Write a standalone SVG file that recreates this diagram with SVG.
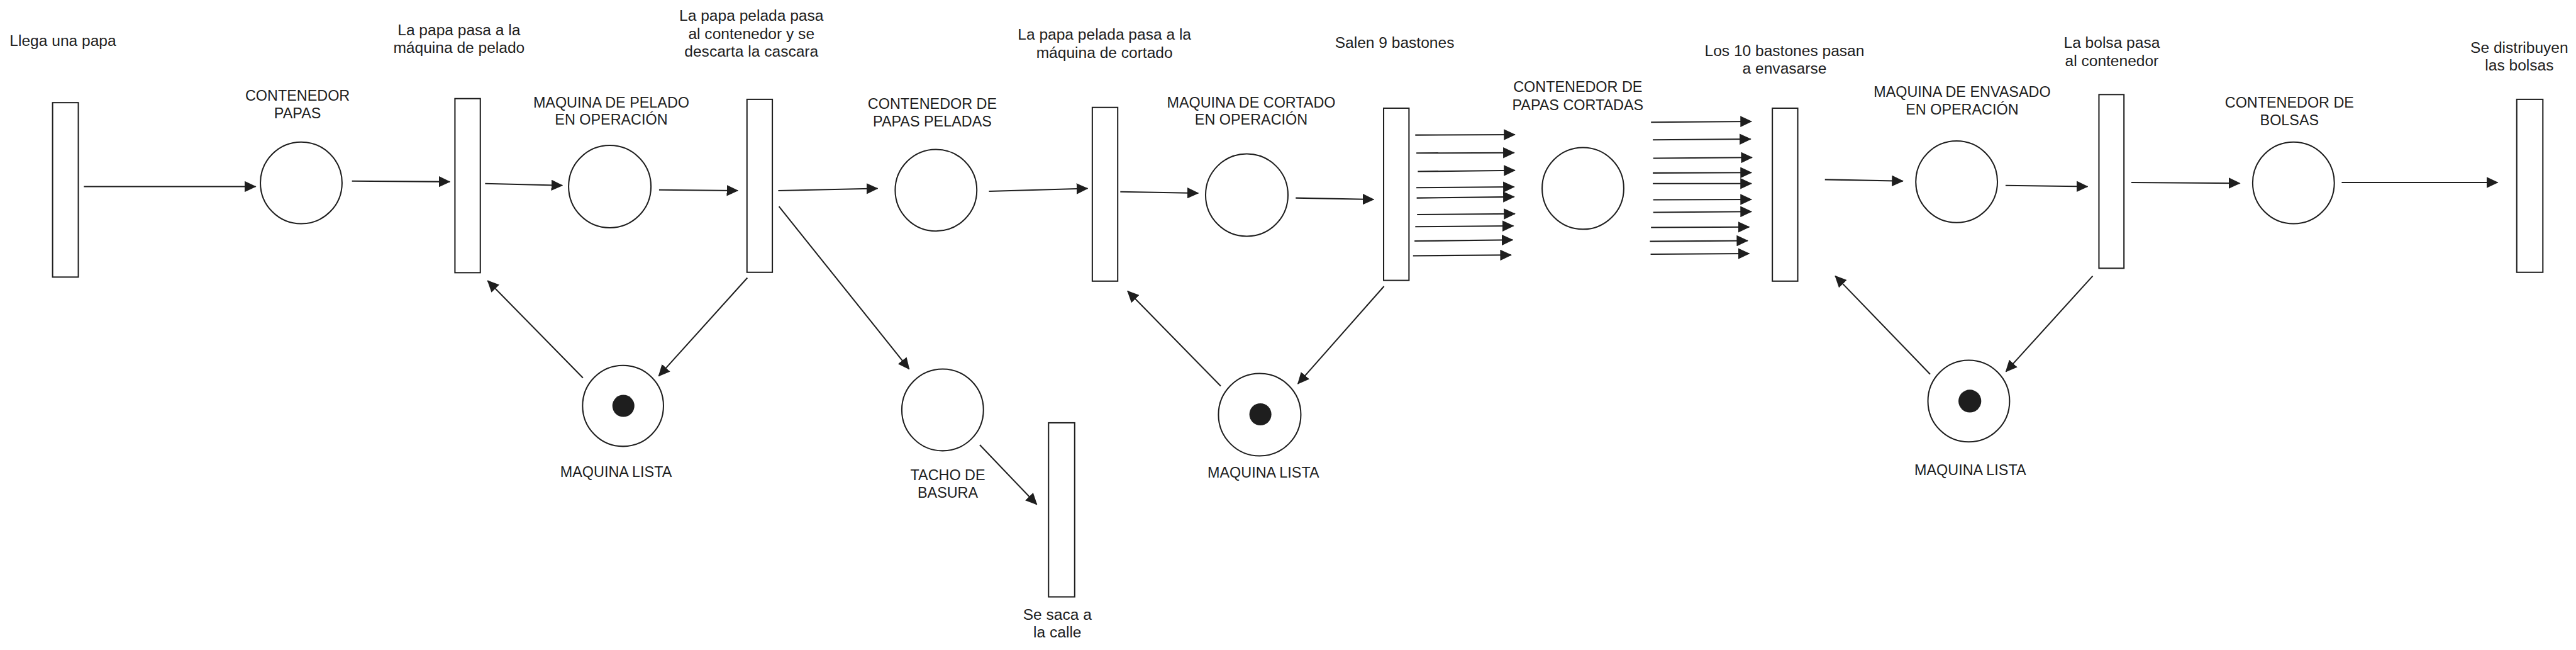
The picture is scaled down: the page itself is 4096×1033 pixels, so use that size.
<svg xmlns="http://www.w3.org/2000/svg" width="4096" height="1033" viewBox="0 0 4096 1033">
<defs>
<style>
.t{fill:#fff;stroke:#1e1e1e;stroke-width:3.5}
.p{fill:none;stroke:#1e1e1e;stroke-width:3.5}
.k{fill:#1e1e1e}
.c{fill:none;stroke:#1e1e1e;stroke-width:3.5;marker-end:url(#ah)}
text{font-family:"Liberation Sans",Arial,sans-serif;fill:#1e1e1e;text-anchor:middle}
.s{font-size:42px}
.u{font-size:40px}
</style>
<marker id="ah" viewBox="0 0 32 30" refX="30" refY="15" markerWidth="32" markerHeight="30" orient="auto" markerUnits="userSpaceOnUse">
<path d="M0,0 L32,15 L0,30 Z" fill="#1e1e1e"/>
</marker>
</defs>
<rect x="0" y="0" width="4096" height="1033" fill="#fff"/>
<g transform="scale(0.5848)">
<g id="connectors">
<line class="c" x1="228" y1="507" x2="695" y2="507"/>
<line class="c" x1="957" y1="492" x2="1223" y2="494"/>
<line class="c" x1="1319" y1="499" x2="1529" y2="504"/>
<line class="c" x1="1792" y1="516" x2="2006" y2="518"/>
<line class="c" x1="2116" y1="518" x2="2386" y2="512"/>
<line class="c" x1="2118" y1="561" x2="2472" y2="1003"/>
<line class="c" x1="2032" y1="755" x2="1791" y2="1022"/>
<line class="c" x1="1585" y1="1027" x2="1326" y2="763"/>
<line class="c" x1="2664" y1="1209" x2="2819" y2="1371"/>
<line class="c" x1="2689" y1="520" x2="2957" y2="512"/>
<line class="c" x1="3046" y1="521" x2="3258" y2="525"/>
<line class="c" x1="3319" y1="1049" x2="3066" y2="791"/>
<line class="c" x1="3523" y1="538" x2="3735" y2="542"/>
<line class="c" x1="3763" y1="778" x2="3529" y2="1043"/>
<line class="c" x1="3848" y1="367" x2="4119" y2="366"/>
<line class="c" x1="3851" y1="416" x2="4117" y2="415"/>
<line class="c" x1="3855" y1="466" x2="4119" y2="463"/>
<line class="c" x1="3851" y1="510" x2="4117" y2="508"/>
<line class="c" x1="3852" y1="538" x2="4117" y2="535"/>
<line class="c" x1="3853" y1="583" x2="4119" y2="581"/>
<line class="c" x1="3848" y1="616" x2="4115" y2="614"/>
<line class="c" x1="3846" y1="655" x2="4113" y2="652"/>
<line class="c" x1="3842" y1="695" x2="4109" y2="693"/>
<line class="c" x1="4489" y1="332" x2="4762" y2="330"/>
<line class="c" x1="4494" y1="380" x2="4760" y2="378"/>
<line class="c" x1="4495" y1="430" x2="4764" y2="428"/>
<line class="c" x1="4494" y1="470" x2="4762" y2="469"/>
<line class="c" x1="4494" y1="499" x2="4762" y2="499"/>
<line class="c" x1="4495" y1="543" x2="4762" y2="542"/>
<line class="c" x1="4495" y1="577" x2="4762" y2="575"/>
<line class="c" x1="4489" y1="618" x2="4756" y2="617"/>
<line class="c" x1="4486" y1="656" x2="4752" y2="654"/>
<line class="c" x1="4488" y1="691" x2="4756" y2="689"/>
<line class="c" x1="4962" y1="488" x2="5174" y2="492"/>
<line class="c" x1="5453" y1="504" x2="5676" y2="507"/>
<line class="c" x1="5690" y1="750" x2="5454" y2="1010"/>
<line class="c" x1="5248" y1="1017" x2="4990" y2="750"/>
<line class="c" x1="5795" y1="496" x2="6090" y2="498"/>
<line class="c" x1="6367" y1="496" x2="6791" y2="496"/>
</g>
<g id="t1"><rect class="t" x="143" y="279" width="70" height="474"/><text class="s" x="171" y="125">Llega una papa</text></g>
<g id="p1"><circle class="p" cx="819" cy="497" r="111"/><text class="u" x="809" y="274">CONTENEDOR</text><text class="u" x="809" y="322">PAPAS</text></g>
<g id="t2"><rect class="t" x="1237" y="268" width="69" height="473"/><text class="s" x="1248" y="95">La papa pasa a la</text><text class="s" x="1248" y="144">máquina de pelado</text></g>
<g id="p2"><circle class="p" cx="1658" cy="507" r="112"/><text class="u" x="1662" y="293">MAQUINA DE PELADO</text><text class="u" x="1662" y="339">EN OPERACIÓN</text></g>
<g id="t3"><rect class="t" x="2031" y="270" width="69" height="470"/><text class="s" x="2043" y="57">La papa pelada pasa</text><text class="s" x="2043" y="106">al contenedor y se</text><text class="s" x="2043" y="154">descarta la cascara</text></g>
<g id="ml1"><circle class="p" cx="1694" cy="1103" r="110"/><circle class="k" cx="1695" cy="1103" r="30"/><text class="u" x="1675" y="1297">MAQUINA LISTA</text></g>
<g id="p3"><circle class="p" cx="2545" cy="517" r="111"/><text class="u" x="2535" y="295">CONTENEDOR DE</text><text class="u" x="2535" y="344">PAPAS PELADAS</text></g>
<g id="trash"><circle class="p" cx="2563" cy="1114" r="111"/><text class="u" x="2577" y="1304">TACHO DE</text><text class="u" x="2577" y="1352">BASURA</text></g>
<g id="t9"><rect class="t" x="2851" y="1149" width="71" height="473"/><text class="s" x="2875" y="1684">Se saca a</text><text class="s" x="2875" y="1733">la calle</text></g>
<g id="t4"><rect class="t" x="2970" y="292" width="69" height="472"/><text class="s" x="3003" y="108">La papa pelada pasa a la</text><text class="s" x="3003" y="157">máquina de cortado</text></g>
<g id="p4"><circle class="p" cx="3390" cy="530" r="112"/><text class="u" x="3402" y="293">MAQUINA DE CORTADO</text><text class="u" x="3402" y="339">EN OPERACIÓN</text></g>
<g id="ml2"><circle class="p" cx="3425" cy="1127" r="112"/><circle class="k" cx="3427" cy="1126" r="30"/><text class="u" x="3435" y="1298">MAQUINA LISTA</text></g>
<g id="t5"><rect class="t" x="3762" y="294" width="69" height="468"/><text class="s" x="3792" y="130">Salen 9 bastones</text></g>
<g id="p5"><circle class="p" cx="4304" cy="512" r="111"/><text class="u" x="4290" y="250">CONTENEDOR DE</text><text class="u" x="4290" y="299">PAPAS CORTADAS</text></g>
<g id="t6"><rect class="t" x="4819" y="294" width="69" height="470"/><text class="s" x="4852" y="152">Los 10 bastones pasan</text><text class="s" x="4852" y="200">a envasarse</text></g>
<g id="p6"><circle class="p" cx="5320" cy="494" r="111"/><text class="u" x="5335" y="263">MAQUINA DE ENVASADO</text><text class="u" x="5335" y="312">EN OPERACIÓN</text></g>
<g id="ml3"><circle class="p" cx="5353" cy="1090" r="111"/><circle class="k" cx="5356" cy="1090" r="31"/><text class="u" x="5357" y="1291">MAQUINA LISTA</text></g>
<g id="t7"><rect class="t" x="5707" y="257" width="68" height="472"/><text class="s" x="5742" y="130">La bolsa pasa</text><text class="s" x="5742" y="179">al contenedor</text></g>
<g id="p7"><circle class="p" cx="6236" cy="497" r="111"/><text class="u" x="6225" y="293">CONTENEDOR DE</text><text class="u" x="6225" y="341">BOLSAS</text></g>
<g id="t8"><rect class="t" x="6843" y="270" width="71" height="470"/><text class="s" x="6850" y="144">Se distribuyen</text><text class="s" x="6850" y="192">las bolsas</text></g>
</g>
</svg>
